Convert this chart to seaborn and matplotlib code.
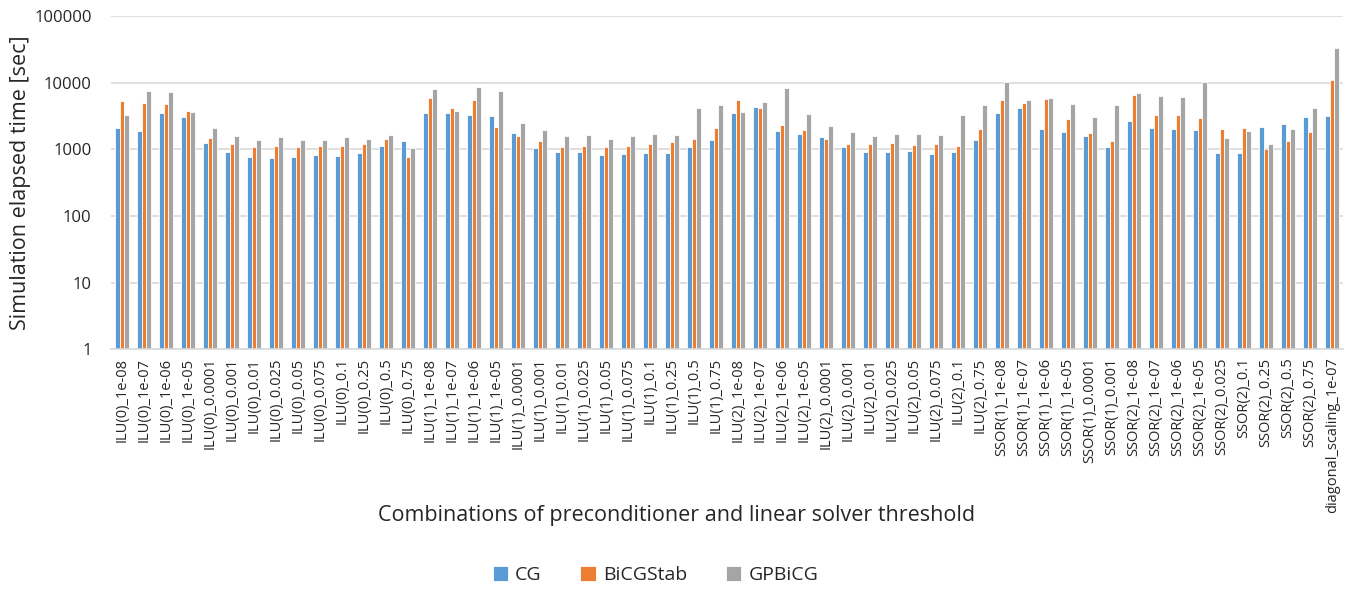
import numpy as np
import pandas as pd
import seaborn as sns
import matplotlib.pyplot as plt
from matplotlib.ticker import FixedLocator, FuncFormatter, NullLocator

# combinations of preconditioner and threshold
combos = ["ILU(0)_1e-08", "ILU(0)_1e-07", "ILU(0)_1e-06", "ILU(0)_1e-05", "ILU(0)_0.0001",
          "ILU(0)_0.001", "ILU(0)_0.01", "ILU(0)_0.025", "ILU(0)_0.05", "ILU(0)_0.075",
          "ILU(0)_0.1", "ILU(0)_0.25", "ILU(0)_0.5", "ILU(0)_0.75",
          "ILU(1)_1e-08", "ILU(1)_1e-07", "ILU(1)_1e-06", "ILU(1)_1e-05", "ILU(1)_0.0001",
          "ILU(1)_0.001", "ILU(1)_0.01", "ILU(1)_0.025", "ILU(1)_0.05", "ILU(1)_0.075",
          "ILU(1)_0.1", "ILU(1)_0.25", "ILU(1)_0.5", "ILU(1)_0.75",
          "ILU(2)_1e-08", "ILU(2)_1e-07", "ILU(2)_1e-06", "ILU(2)_1e-05", "ILU(2)_0.0001",
          "ILU(2)_0.001", "ILU(2)_0.01", "ILU(2)_0.025", "ILU(2)_0.05", "ILU(2)_0.075",
          "ILU(2)_0.1", "ILU(2)_0.75",
          "SSOR(1)_1e-08", "SSOR(1)_1e-07", "SSOR(1)_1e-06", "SSOR(1)_1e-05",
          "SSOR(1)_0.0001", "SSOR(1)_0.001",
          "SSOR(2)_1e-08", "SSOR(2)_1e-07", "SSOR(2)_1e-06", "SSOR(2)_1e-05",
          "SSOR(2)_0.025", "SSOR(2)_0.1", "SSOR(2)_0.25", "SSOR(2)_0.5", "SSOR(2)_0.75",
          "diagonal_scaling_1e-07"]

cg = [2080, 1900, 3540, 3080, 1240, 907, 771, 736, 771, 826, 807, 875, 1130, 1330,
      3540, 3540, 3300, 3150, 1730, 1050, 896, 907, 826, 855, 875, 885, 1100, 1360,
      3540, 4310, 1900, 1710, 1510, 1070, 896, 896, 949, 865, 917, 1390,
      3540, 4110, 2010, 1830, 1580, 1090,
      2680, 2100, 2030, 1940, 885, 885, 2180, 2420, 3050,
      3190]
bicgstab = [5240, 4960, 4830, 3800, 1470, 1200, 1080, 1120, 1080, 1120, 1140, 1200, 1420, 762,
            5810, 4210, 5420, 2180, 1560, 1330, 1070, 1140, 1070, 1140, 1220, 1300, 1420, 2100,
            5550, 4110, 2280, 1960, 1440, 1200, 1220, 1240, 1160, 1200, 1130, 2030,
            5550, 5000, 5740, 2800, 1770, 1340,
            6530, 3270, 3230, 2980, 2010, 2080, 1020, 1310, 1790,
            11090]
gpbicg = [3300, 7590, 7330, 3580, 2060, 1600, 1390, 1510, 1360, 1370, 1510, 1420, 1650, 1050,
          8130, 3750, 8510, 7590, 2480, 1940, 1610, 1650, 1450, 1560, 1670, 1630, 4160, 4560,
          3660, 5180, 8410, 3380, 2230, 1810, 1580, 1710, 1670, 1630, 3300, 4560,
          10100, 5420, 5940, 4830, 3050, 4560,
          7080, 6220, 6080, 10100, 1490, 1900, 1210, 2010, 4110,
          33300]

solvers = ["CG", "BiCGStab", "GPBiCG"]
colors = ["#5B9BD5", "#ED7D31", "#A5A5A5"]

df = pd.DataFrame({"combo": combos * 3,
                   "solver": np.repeat(solvers, len(combos)),
                   "time": cg + bicgstab + gpbicg})

sns.set_style("white")
plt.rcParams['font.family'] = ['Open Sans', 'DejaVu Sans']

fig = plt.figure(figsize=(13.54, 5.92), dpi=100)
ax = fig.add_axes([0.082, 0.41, 0.91, 0.563])

sns.barplot(data=df, x="combo", y="time", hue="solver", palette=colors, saturation=1,
            width=0.62, edgecolor="white", linewidth=0.6, ax=ax, legend=True)

ax.set_yscale("log")
ax.set_ylim(1, 100000)
ax.yaxis.set_major_locator(FixedLocator([1, 10, 100, 1000, 10000, 100000]))
ax.yaxis.set_minor_locator(NullLocator())
ax.yaxis.set_major_formatter(FuncFormatter(lambda v, p: "%d" % v))
ax.set_xlim(-0.5, len(combos) - 0.5)

ax.grid(axis="y", color="#D9D9D9", linewidth=1.2)
ax.set_axisbelow(True)
for s in ["top", "right", "left"]:
    ax.spines[s].set_visible(False)
ax.spines["bottom"].set_color("#D9D9D9")
ax.spines["bottom"].set_linewidth(1.2)

ax.tick_params(axis="x", labelrotation=90, labelsize=10.5, length=0, pad=6)
ax.tick_params(axis="y", labelsize=12, length=0, pad=14)
ax.set_ylabel("Simulation elapsed time [sec]", fontsize=15.5, labelpad=2)
ax.set_xlabel("")
fig.text(0.5, 0.130, "Combinations of preconditioner and linear solver threshold",
         ha="center", va="center", fontsize=15.5)

handles, labels = ax.get_legend_handles_labels()
ax.get_legend().remove()
fig.legend(handles, labels, loc="center", bbox_to_anchor=(0.484, 0.029), ncol=3,
           frameon=False, fontsize=14, handlelength=0.8, handleheight=0.8,
           columnspacing=2.0, handletextpad=0.35, borderpad=0)

plt.savefig("out.png", dpi=100)
